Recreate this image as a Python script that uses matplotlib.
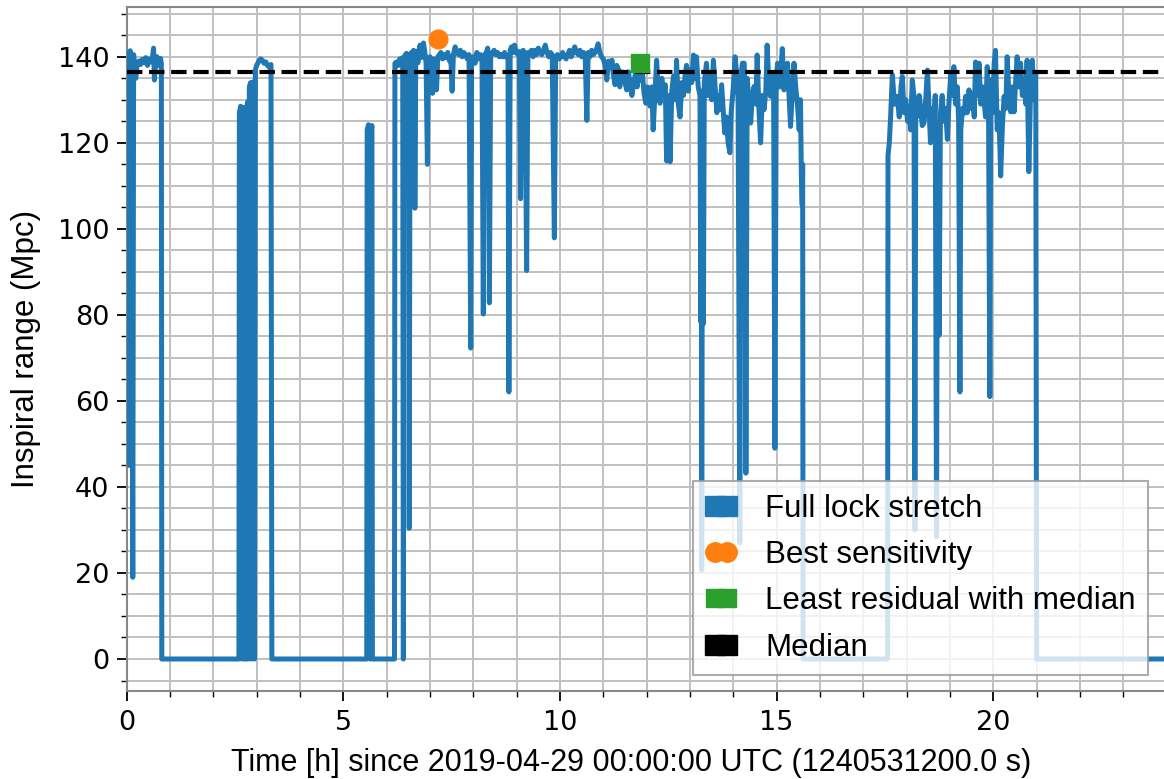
import numpy as np
import matplotlib
matplotlib.use('Agg')
import matplotlib.pyplot as plt
from matplotlib.lines import Line2D
from matplotlib.ticker import MultipleLocator

# Lock stretches: time [h] since 2019-04-29 00:00 UTC and inspiral range [Mpc]
t_a = [0.00, 0.02, 0.03, 0.05, 0.06, 0.08, 0.10, 0.12, 0.14, 0.16, 0.19, 0.21, 0.24, 0.28, 0.32,
       0.36, 0.40, 0.44, 0.48, 0.52, 0.56, 0.60, 0.62, 0.64, 0.67, 0.70, 0.74, 0.78, 0.80, 0.81]
r_a = [137.0, 140.5, 62.0, 141.0, 45.0, 141.4, 139.0, 100.0, 19.0, 140.5, 136.0, 135.0, 138.5, 139.0, 138.2,
       139.4, 138.6, 139.8, 138.0, 139.5, 138.8, 140.2, 142.0, 134.6, 139.0, 140.0, 138.0, 139.6, 138.4, 0.0]

t_b1 = [2.59, 2.60, 2.63, 2.65, 2.66, 2.68, 2.70, 2.71]
r_b1 = [0.0, 127.0, 128.5, 126.5, 0.0, 127.5, 128.2, 0.0]

t_b2 = [2.77, 2.78, 2.80, 2.81, 2.83, 2.86, 2.88, 2.90, 2.93, 2.95, 2.97, 3.00, 3.05, 3.09,
        3.13, 3.17, 3.21, 3.25, 3.29, 3.33, 3.35]
r_b2 = [0.0, 129.0, 129.6, 0.0, 133.0, 134.0, 0.0, 133.5, 134.2, 0.0, 137.0, 138.0, 139.0, 139.5,
        139.2, 138.5, 138.8, 138.0, 137.6, 138.2, 0.0]

t_b3 = [5.54, 5.55, 5.58, 5.60, 5.62, 5.64, 5.66, 5.67]
r_b3 = [0.0, 123.0, 124.2, 122.5, 0.0, 123.0, 124.0, 0.0]

t_c = [6.18, 6.19, 6.23, 6.27, 6.30, 6.34, 6.37, 6.385, 6.40, 6.43, 6.46, 6.49, 6.51, 6.52, 6.54,
       6.57, 6.60, 6.62, 6.64, 6.65, 6.67, 6.69, 6.72, 6.75, 6.77, 6.80, 6.83, 6.85, 6.88, 6.91,
       6.94, 6.96, 7.00, 7.03, 7.06, 7.09, 7.12, 7.15, 7.18, 7.22, 7.25, 7.29, 7.33, 7.37, 7.41,
       7.45, 7.48, 7.51, 7.54, 7.58, 7.62, 7.66, 7.70, 7.74, 7.78, 7.82, 7.86, 7.90, 7.94, 7.96,
       8.00, 8.04, 8.08, 8.12, 8.16, 8.20, 8.23, 8.26, 8.30, 8.33, 8.35, 8.37, 8.40, 8.44, 8.48,
       8.52, 8.56, 8.60, 8.64, 8.68, 8.72, 8.76, 8.80, 8.82, 8.85, 8.88, 8.92, 8.95, 8.99, 9.03,
       9.06, 9.09, 9.12, 9.15, 9.19, 9.23, 9.26, 9.30, 9.34, 9.38, 9.42, 9.46, 9.50, 9.54, 9.58,
       9.62, 9.66, 9.70, 9.74, 9.78, 9.82, 9.87, 9.90, 9.94, 9.98, 10.02, 10.06, 10.10, 10.14, 10.18,
       10.22, 10.26, 10.30, 10.34, 10.38, 10.42, 10.46, 10.50, 10.54, 10.58, 10.62, 10.65, 10.69, 10.73, 10.77,
       10.81, 10.85, 10.88, 10.92, 10.96, 11.00, 11.04, 11.08, 11.12, 11.16, 11.20, 11.23, 11.27, 11.31, 11.35,
       11.38, 11.42, 11.46, 11.50, 11.54, 11.58, 11.62, 11.66, 11.70, 11.74, 11.78, 11.82, 11.86, 11.90, 11.94,
       11.98, 12.02, 12.06, 12.08, 12.12, 12.15, 12.19, 12.23, 12.27, 12.31, 12.35, 12.39, 12.43, 12.46, 12.49,
       12.52, 12.54, 12.58, 12.62, 12.66, 12.69, 12.73, 12.77, 12.81, 12.85, 12.89, 12.92, 12.96, 13.00, 13.04,
       13.08, 13.12, 13.15, 13.19, 13.23, 13.25, 13.26, 13.27, 13.29, 13.31, 13.33, 13.38, 13.42, 13.46, 13.50,
       13.54, 13.58, 13.62, 13.66, 13.69, 13.73, 13.77, 13.80, 13.84, 13.88, 13.92, 13.95, 14.00, 14.04, 14.08,
       14.11, 14.15, 14.18, 14.21, 14.25, 14.27, 14.29, 14.32, 14.36, 14.40, 14.44, 14.48, 14.52, 14.55, 14.59,
       14.63, 14.67, 14.71, 14.75, 14.78, 14.82, 14.86, 14.90, 14.93, 14.96, 14.99, 15.02, 15.06, 15.10, 15.13,
       15.17, 15.21, 15.25, 15.29, 15.32, 15.36, 15.40, 15.44, 15.48, 15.52, 15.55, 15.57, 15.59, 15.60, 15.61]
r_c = [0.0, 138.5, 138.8, 138.0, 139.5, 139.0, 139.8, 0.0, 139.5, 140.5, 140.8, 138.0, 140.0, 30.4, 139.5,
       141.0, 138.5, 141.5, 139.0, 104.8, 139.0, 141.3, 138.6, 141.5, 142.7, 139.8, 142.0, 143.2, 141.0, 138.5,
       115.0, 139.5, 140.0, 138.8, 131.5, 139.5, 139.0, 132.3, 140.0, 140.5, 141.0, 139.5, 140.5, 139.8, 141.0,
       139.0, 140.0, 132.0, 140.5, 142.3, 141.0, 140.5, 141.5, 140.0, 141.0, 140.5, 139.5, 140.5, 72.3, 139.0,
       140.0, 138.5, 141.0, 139.5, 140.5, 139.0, 80.2, 140.5, 141.0, 142.0, 140.0, 82.8, 140.0, 141.0, 141.5,
       140.5, 141.0, 140.0, 140.5, 140.0, 141.0, 140.0, 139.5, 62.1, 141.5, 142.3, 141.0, 142.7, 141.0, 140.5,
       141.2, 107.0, 140.0, 141.5, 140.5, 90.3, 141.0, 140.5, 141.5, 140.0, 141.5, 140.5, 142.0, 141.0, 140.5,
       141.5, 142.7, 141.0, 140.0, 141.0, 140.5, 97.9, 139.5, 140.5, 139.5, 140.0, 141.0, 140.0, 139.5, 140.5,
       141.5, 140.0, 141.0, 142.3, 141.0, 140.5, 141.5, 140.0, 141.0, 140.5, 125.2, 141.0, 140.0, 141.5, 140.5,
       141.0, 142.0, 143.0, 141.0, 140.0, 139.5, 138.0, 134.6, 139.0, 137.5, 139.2, 136.0, 133.5, 138.0, 137.0,
       133.0, 136.5, 136.2, 134.0, 132.3, 136.5, 133.5, 131.0, 134.0, 136.0, 133.0, 137.0, 134.5, 136.5, 131.5,
       129.2, 133.0, 130.0, 128.5, 133.0, 123.0, 131.0, 139.2, 132.0, 129.2, 135.0, 131.0, 133.5, 115.8, 131.0,
       127.0, 115.6, 132.0, 135.5, 130.0, 139.2, 129.0, 126.0, 134.0, 131.0, 136.0, 138.0, 132.0, 137.0, 134.0,
       140.4, 135.0, 140.0, 133.0, 131.0, 78.4, 132.0, 20.7, 130.0, 78.0, 134.0, 138.5, 131.0, 136.0, 130.0,
       139.2, 133.0, 127.0, 131.0, 127.7, 133.5, 127.0, 122.3, 126.0, 120.0, 117.7, 127.0, 133.0, 140.0, 136.0,
       130.0, 27.0, 136.0, 138.5, 138.5, 131.0, 43.2, 135.0, 130.0, 124.6, 131.0, 133.1, 129.0, 140.4, 128.0,
       120.0, 131.0, 127.7, 132.0, 142.7, 134.0, 130.8, 136.0, 133.0, 49.0, 134.0, 138.5, 133.0, 137.0, 141.9,
       132.3, 136.0, 138.5, 130.0, 123.8, 131.0, 138.5, 133.0, 129.0, 123.0, 130.0, 112.3, 105.5, 115.0, 0.0]

t_d = [17.56, 17.57, 17.60, 17.63, 17.67, 17.72, 17.78, 17.83, 17.87, 17.90, 17.94, 17.98, 18.02, 18.05, 18.09,
       18.13, 18.17, 18.19, 18.21, 18.25, 18.29, 18.32, 18.36, 18.40, 18.44, 18.48, 18.52, 18.55, 18.59, 18.63,
       18.66, 18.69, 18.71, 18.75, 18.78, 18.82, 18.86, 18.90, 18.94, 18.98, 19.02, 19.06, 19.09, 19.13, 19.17,
       19.20, 19.23, 19.25, 19.29, 19.33, 19.36, 19.40, 19.44, 19.48, 19.52, 19.56, 19.59, 19.63, 19.67, 19.71,
       19.75, 19.78, 19.82, 19.86, 19.89, 19.92, 19.94, 19.98, 20.02, 20.05, 20.09, 20.13, 20.17, 20.21, 20.25,
       20.29, 20.32, 20.36, 20.40, 20.44, 20.48, 20.52, 20.55, 20.59, 20.63, 20.67, 20.71, 20.75, 20.78, 20.82,
       20.86, 20.90, 20.94, 20.98, 21.00, 24.00]
r_d = [0.0, 117.0, 120.0, 126.0, 135.8, 129.0, 130.8, 126.0, 133.0, 135.4, 127.0, 130.0, 125.0, 128.5, 123.0,
       134.6, 130.8, 30.0, 127.0, 126.2, 131.0, 128.5, 124.0, 124.6, 130.0, 136.9, 127.0, 120.0, 128.0, 124.0,
       131.0, 28.4, 124.6, 75.3, 126.9, 131.0, 125.0, 128.0, 120.8, 130.0, 136.2, 131.0, 137.7, 129.0, 133.0,
       125.0, 62.1, 123.0, 128.0, 126.9, 130.8, 127.0, 132.3, 128.0, 131.5, 126.0, 138.8, 131.0, 138.5, 129.0,
       133.0, 130.8, 126.0, 137.7, 128.0, 61.0, 134.6, 127.0, 138.5, 141.5, 123.0, 127.0, 112.3, 124.0, 130.8,
       128.0, 140.0, 131.0, 127.2, 133.0, 127.2, 135.0, 140.0, 133.0, 138.5, 131.0, 134.6, 129.0, 139.2, 113.3,
       132.0, 139.2, 130.0, 136.2, 0.0, 0.0]

best_t, best_r = 7.19, 144.1
least_t, least_r = 11.84, 138.5
median_r = 136.5

time = np.concatenate([t_a, t_b1, t_b2, t_b3, t_c, t_d])
rng = np.concatenate([r_a, r_b1, r_b2, r_b3, r_c, r_d])

plt.rcParams['font.family'] = ['Liberation Sans', 'DejaVu Sans']

fig = plt.figure(figsize=(11.64, 7.79), dpi=100)
ax = fig.add_axes([0.10885, 0.11296, 0.8934, 0.87767])

ax.plot(time, rng, color='#1f77b4', lw=3.6, zorder=3,
        solid_capstyle='round', solid_joinstyle='round')
ax.axhline(median_r, color='black', ls='--', lw=3, zorder=4)
ax.plot(best_t, best_r, 'o', color='#ff7f0e', ms=13.5, zorder=5)
ax.plot(least_t, least_r, 's', color='#2ca02c', ms=13.5, zorder=5)

ax.set_xlim(0, 24)
ax.set_ylim(-7.44, 151.5)
ax.xaxis.set_major_locator(MultipleLocator(5))
ax.xaxis.set_minor_locator(MultipleLocator(1))
ax.yaxis.set_major_locator(MultipleLocator(20))
ax.yaxis.set_minor_locator(MultipleLocator(5))

ax.set_axisbelow(True)
ax.grid(True, which='both', color='#c0c0c0', lw=1.4)
for s in ax.spines.values():
    s.set_color('#888888')
    s.set_linewidth(1.5)
ax.tick_params(which='major', direction='out', length=7, width=1.3, labelsize=19.5,
               labelfontfamily='DejaVu Sans')
ax.tick_params(which='minor', direction='out', length=4, width=1.0)
ax.tick_params(axis='x', which='major', pad=7)
ax.tick_params(axis='y', which='major', pad=5.5)

ax.set_xlabel('Time [h] since 2019-04-29 00:00:00 UTC (1240531200.0 s)', fontsize=22)
ax.set_ylabel('Inspiral range (Mpc)', fontsize=22.5)
ax.xaxis.set_label_coords(0.485, -0.083)
ax.yaxis.set_label_coords(-0.082, 0.5)

handles = [
    Line2D([], [], ls='none', marker='s', ms=15, color='#1f77b4'),
    Line2D([], [], ls='none', marker='o', ms=14, color='#ff7f0e'),
    Line2D([], [], ls='none', marker='s', ms=13, color='#2ca02c'),
    Line2D([], [], ls='none', marker='s', ms=15, color='black'),
]
labels = ['Full lock stretch', 'Best sensitivity', 'Least residual with median', 'Median']
leg = ax.legend(handles, labels, loc='lower right', bbox_to_anchor=(0.982, 0.0234),
                borderaxespad=0, numpoints=2, handlelength=1.0, handletextpad=0.9,
                labelspacing=0.52, fontsize=22.5, fancybox=False, framealpha=0.8,
                edgecolor='#999999')
leg.get_frame().set_linewidth(1.5)

fig.savefig('out.png', dpi=100)
